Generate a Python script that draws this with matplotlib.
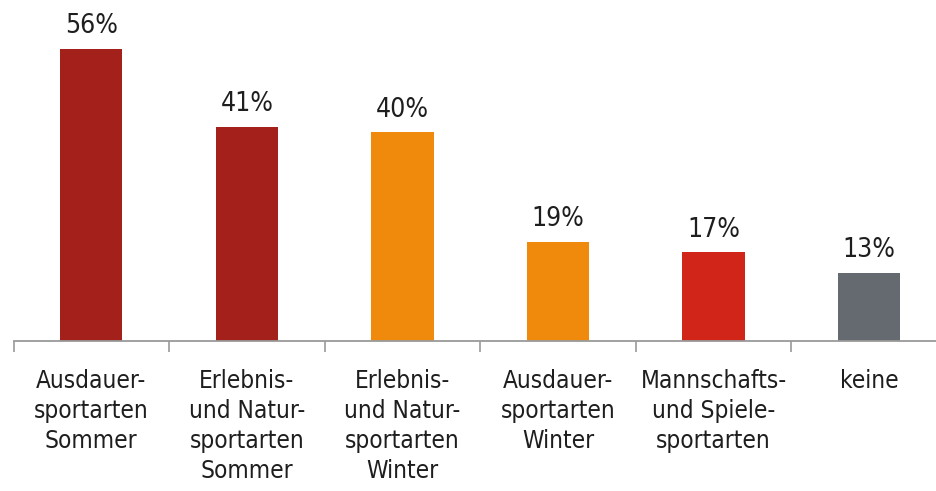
import matplotlib.pyplot as plt
import numpy as np

# Werte aus dem Bild
kategorien = ['Ausdauer-\nsportarten\nSommer', 'Erlebnis-\nund Natur-\nsportarten\nSommer',
              'Erlebnis-\nund Natur-\nsportarten\nWinter', 'Ausdauer-\nsportarten\nWinter',
              'Mannschafts-\nund Spiele-\nsportarten', 'keine']
werte = [56, 41, 40, 19, 17, 13]
farben = ['#A3201B', '#A3201B', '#F08A0C', '#F08A0C', '#D2251A', '#646A70']

plt.rcParams['font.family'] = ['DejaVu Sans']
plt.rcParams['font.stretch'] = 'condensed'

fig = plt.figure(figsize=(9.36, 4.91), dpi=100)
ax = fig.add_axes([13.5 / 936, 150 / 491, 1 - 13.5 / 936, 313 / 491])

x = np.arange(len(werte))
bars = ax.bar(x, werte, width=0.4, color=farben)

for xi, w in zip(x, werte):
    ax.annotate(f'{w}%', (xi, w), xytext=(0, 7), textcoords='offset points',
                ha='center', va='bottom', fontsize=19, color='#1e1e1e',
                fontstretch='condensed')

ax.set_xlim(-0.5, 5.43)
ax.set_ylim(0, 60)

for s in ['top', 'right', 'left']:
    ax.spines[s].set_visible(False)
ax.spines['bottom'].set_color('#9a9a9a')
ax.spines['bottom'].set_linewidth(1.3)
ax.set_yticks([])

ax.set_xticks(x)
ax.set_xticklabels(kategorien, fontsize=17.5, color='#1e1e1e', linespacing=1.32,
                   va='top', fontstretch='condensed')
ax.tick_params(axis='x', which='major', length=0, pad=20)
ax.set_xticks(np.arange(-0.5, 5, 1), minor=True)
ax.tick_params(axis='x', which='minor', length=8, width=1.2, color='#9a9a9a')

fig.savefig('out.png', dpi=100)
